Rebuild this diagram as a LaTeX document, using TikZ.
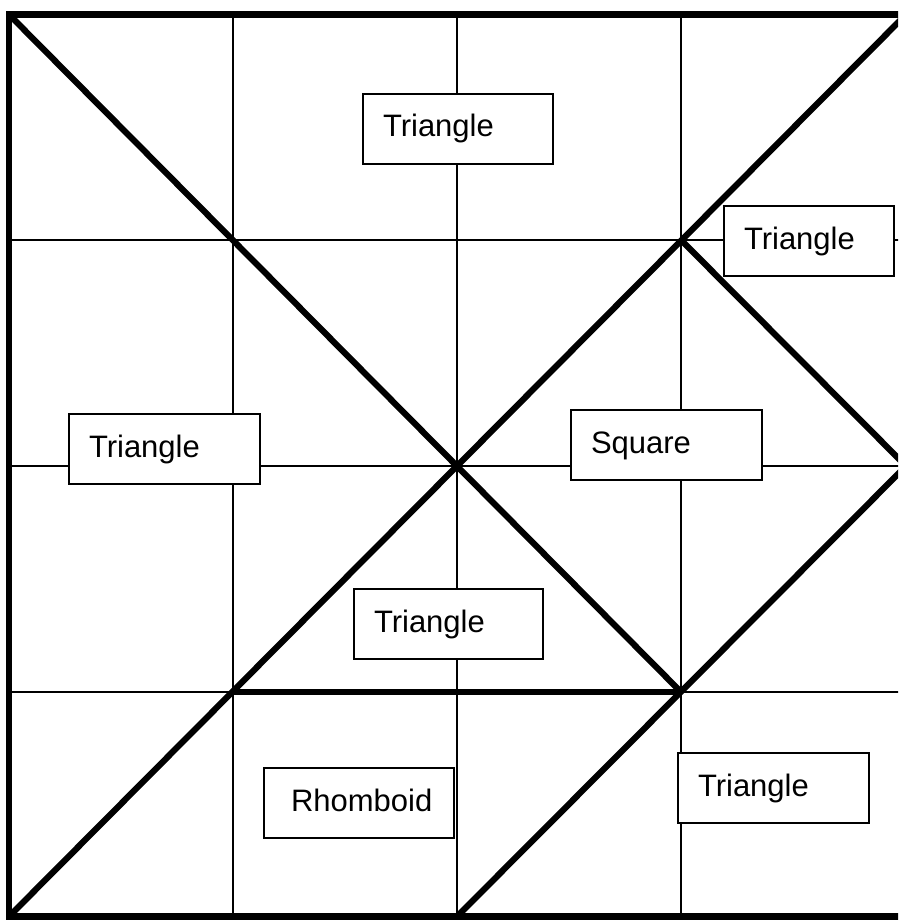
\documentclass[tikz,border=0pt]{standalone}
\usepackage{fontspec}
\setmainfont{Liberation Sans}
\begin{document}
\begin{tikzpicture}[x=1pt,y=-1pt,
  thin grid/.style={line width=1.8pt},
  heavy/.style={line width=6.2pt,line cap=butt},
  lbl/.style={draw,line width=2pt,fill=white,anchor=north west,
    minimum height=70pt,inner xsep=20pt,inner ysep=0pt,
    text height=23pt,text depth=7pt,align=left,
    font=\fontsize{31}{36}\selectfont}]
\useasboundingbox (0,0) rectangle (898,920);
\clip (0,0) rectangle (898,920);
% corners and grid points
\coordinate (TL) at (9,14.5);
\coordinate (TR) at (906,14.5);
\coordinate (BL) at (9,916.5);
\coordinate (BR) at (906,916.5);
\coordinate (RM) at (906,466);
\coordinate (C) at (457,466);
\coordinate (P1) at (681,240);
\coordinate (P2) at (681,692);
\coordinate (P3) at (233,692);
\coordinate (BM) at (457,916.5);
% thin grid
\foreach \x in {233,457,681} \draw[thin grid] (\x,14.5) -- (\x,916.5);
\foreach \y in {240,466,692} \draw[thin grid] (9,\y) -- (906,\y);
% heavy lines
\draw[heavy,line join=miter] (TR) -- (TL) -- (BL) -- (BR);
\draw[heavy] (TL) -- (P2);
\draw[heavy] (BL) -- (TR);
\draw[heavy] (P1) -- (RM) -- (BM);
\draw[heavy] (P3) -- (P2);
% labels
\node[lbl,minimum width=190pt,text width=150pt] (t1) at (362,93) {Triangle};
\node[lbl,minimum width=170pt,text width=130pt] (t2) at (723,205) {Triangle};
\node[lbl,minimum width=191pt,text width=151pt] (t3) at (68,413) {Triangle};
\node[lbl,minimum width=191pt,text width=151pt] (sq) at (570,409) {Square};
\node[lbl,minimum width=189pt,text width=149pt] (t4) at (353,588) {Triangle};
\node[lbl,minimum width=190pt,text width=136pt,inner xsep=27pt] (rh) at (263,767) {Rhomboid};
\node[lbl,minimum width=191pt,text width=151pt] (t5) at (677,752) {Triangle};
\end{tikzpicture}
\end{document}
